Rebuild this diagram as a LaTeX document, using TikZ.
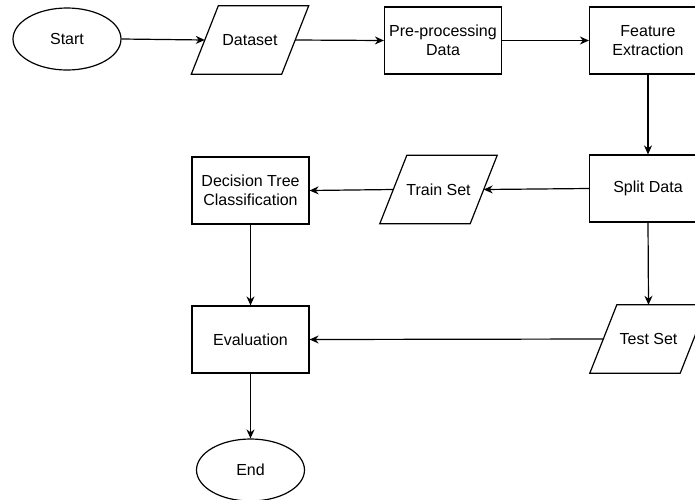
\documentclass[tikz,border=0pt]{standalone}
\usepackage{fontspec}
\setmainfont{Liberation Sans}
\usetikzlibrary{shapes.geometric,arrows.meta}
\begin{document}
\begin{tikzpicture}[x=1pt,y=-1pt,
  every node/.style={font=\fontsize{16pt}{18.5pt}\selectfont, align=center, inner sep=0pt},
  box/.style={draw, line width=1.2pt, minimum width=117pt, minimum height=67pt},
  term/.style={draw, ellipse, line width=1.2pt, minimum width=108pt, minimum height=62pt},
  iobox/.style={minimum width=90pt, minimum height=68pt},
  flow/.style={line width=1.2pt, -{Stealth[length=9pt,width=8pt]}}]
\useasboundingbox (0,0) rectangle (695,499);
\clip (0,0) rectangle (695,499);
\node[term] (start) at (67,39) {Start};
\node[iobox] (dataset) at (250,40) {Dataset};
\node[box] (pre) at (443,40.5) {Pre-processing\\Data};
\node[box] (fe) at (648,40.5) {Feature\\Extraction};
\node[box] (split) at (648,188.5) {Split Data};
\node[iobox] (train) at (438.5,189.5) {Train Set};
\node[box] (dtc) at (250.5,190.5) {Decision Tree\\Classification};
\node[box] (eval) at (250.5,339.5) {Evaluation};
\node[iobox] (test) at (648.5,339) {Test Set};
\node[term] (end) at (250.5,470) {End};
\foreach \n in {dataset,train,test}{
  \draw[line width=1.2pt, line join=miter]
    ([xshift=13.5pt]\n.north west) -- ([xshift=13.5pt]\n.north east) --
    ([xshift=-13.5pt]\n.south east) -- ([xshift=-13.5pt]\n.south west) -- cycle;
}
\draw[flow] (start.east) -- (dataset.west);
\draw[flow] (dataset.east) -- (pre.west);
\draw[flow] (pre.east) -- (fe.west);
\draw[flow] (fe.south) -- (split.north);
\draw[flow] (split.west) -- (train.east);
\draw[flow] (train.west) -- (dtc.east);
\draw[flow] (dtc.south) -- (eval.north);
\draw[flow] (split.south) -- (test.north);
\draw[flow] (test.west) -- (eval.east);
\draw[flow] (eval.south) -- (end.north);
\end{tikzpicture}
\end{document}
